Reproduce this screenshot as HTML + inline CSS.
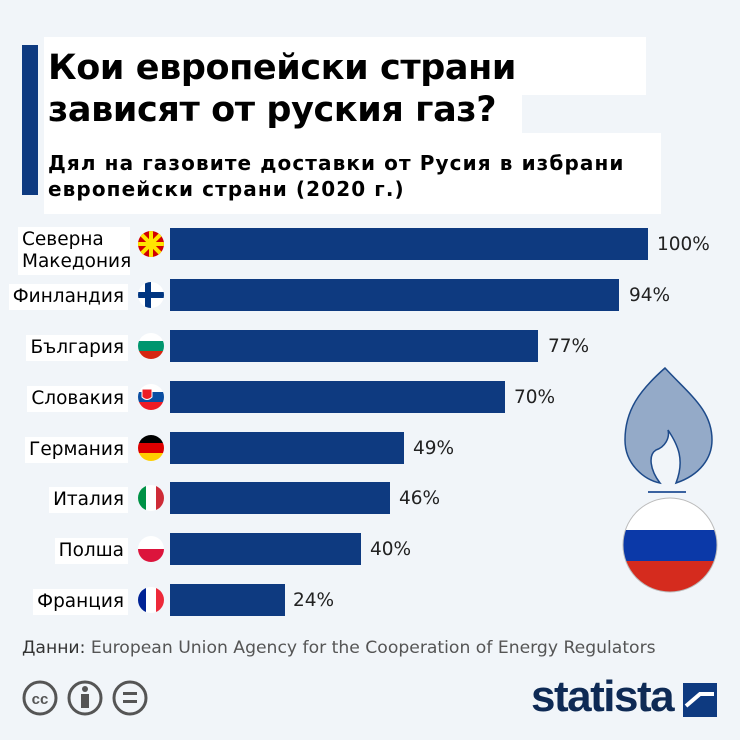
<!DOCTYPE html><html><head><meta charset="utf-8"><style>
body{margin:0;width:740px;height:740px;background:#f1f5f9;position:relative;overflow:hidden;font-family:"DejaVu Sans","Liberation Sans",sans-serif}
.a{position:absolute}
.w{background:#fff}
.t{font-weight:bold;font-size:35px;color:#000;line-height:44px;white-space:nowrap;letter-spacing:-0.4px}
.s{font-weight:bold;font-size:20px;line-height:26px;white-space:nowrap;letter-spacing:1.1px}
.lab{position:absolute;right:612px;font-size:18.5px;text-align:right;white-space:nowrap;line-height:22px;background:#fff;padding:2px 4px}
.bar{position:absolute;left:170px;height:32px;background:#0e3a80}
.v{position:absolute;font-size:18.5px;color:#222}
</style></head><body>
<div class="a" style="left:22px;top:45px;width:16px;height:150px;background:#0e3a80"></div>
<div class="a w" style="left:44px;top:37px;width:602px;height:58px"></div>
<div class="a w" style="left:44px;top:95px;width:478px;height:38px"></div>
<div class="a w" style="left:44px;top:133px;width:617px;height:81px"></div>
<div class="a t" style="left:48px;top:46px">Кои европейски страни</div>
<div class="a t" style="left:48px;top:88px">зависят от руския газ?</div>
<div class="a s" style="left:48px;top:150px">Дял на газовите доставки от Русия в избрани</div>
<div class="a s" style="left:48px;top:176px">европейски страни (2020 г.)</div>

<div class="lab" style="top:227px;text-align:left;right:auto;left:18px;width:104px">Северна<br>Македония</div>
<div class="lab" style="top:284px">Финландия</div>
<div class="lab" style="top:335px">България</div>
<div class="lab" style="top:386px">Словакия</div>
<div class="lab" style="top:437px">Германия</div>
<div class="lab" style="top:487px">Италия</div>
<div class="lab" style="top:538px">Полша</div>
<div class="lab" style="top:589px">Франция</div>

<svg class="a" style="left:0;top:0" width="740" height="740">
<defs>
<clipPath id="c1"><circle cx="151" cy="244" r="13"/></clipPath>
<clipPath id="c2"><circle cx="151" cy="295" r="13"/></clipPath>
<clipPath id="c3"><circle cx="151" cy="346" r="13"/></clipPath>
<clipPath id="c4"><circle cx="151" cy="397" r="13"/></clipPath>
<clipPath id="c5"><circle cx="151" cy="448" r="13"/></clipPath>
<clipPath id="c6"><circle cx="151" cy="498" r="13"/></clipPath>
<clipPath id="c7"><circle cx="151" cy="549" r="13"/></clipPath>
<clipPath id="c8"><circle cx="151" cy="600" r="13"/></clipPath>
<clipPath id="cr"><circle cx="670" cy="545" r="47"/></clipPath>
</defs>
<g clip-path="url(#c1)"><rect x="136" y="229" width="30" height="30" fill="#d20000"/><g stroke="#ffe600" stroke-width="4"><line x1="136" y1="229" x2="166" y2="259"/><line x1="166" y1="229" x2="136" y2="259"/><line x1="136" y1="244" x2="166" y2="244"/><line x1="151" y1="229" x2="151" y2="259"/></g><circle cx="151" cy="244" r="4" fill="#ffe600"/></g>
<g clip-path="url(#c2)"><rect x="136" y="280" width="30" height="30" fill="#fff"/><rect x="136" y="292" width="30" height="6" fill="#003580"/><rect x="145" y="280" width="6" height="30" fill="#003580"/></g>
<g clip-path="url(#c3)"><rect x="136" y="331" width="30" height="10" fill="#fff"/><rect x="136" y="341" width="30" height="10" fill="#00966e"/><rect x="136" y="351" width="30" height="10" fill="#d62612"/></g>
<g clip-path="url(#c4)"><rect x="136" y="382" width="30" height="10" fill="#fff"/><rect x="136" y="392" width="30" height="10" fill="#0b4ea2"/><rect x="136" y="402" width="30" height="10" fill="#ee1c25"/><path d="M142 389h10v8q-5 5-10 0z" fill="#ee1c25" stroke="#fff"/></g>
<g clip-path="url(#c5)"><rect x="136" y="433" width="30" height="10" fill="#000"/><rect x="136" y="443" width="30" height="10" fill="#dd0000"/><rect x="136" y="453" width="30" height="10" fill="#ffce00"/></g>
<g clip-path="url(#c6)"><rect x="136" y="483" width="10" height="30" fill="#009246"/><rect x="146" y="483" width="10" height="30" fill="#fff"/><rect x="156" y="483" width="10" height="30" fill="#ce2b37"/></g>
<g clip-path="url(#c7)"><rect x="136" y="534" width="30" height="15" fill="#fff"/><rect x="136" y="549" width="30" height="15" fill="#dc143c"/></g>
<g clip-path="url(#c8)"><rect x="136" y="585" width="10" height="30" fill="#002395"/><rect x="146" y="585" width="10" height="30" fill="#fff"/><rect x="156" y="585" width="10" height="30" fill="#ed2939"/></g>
<path d="M665 368 C640 390 625 410 625 440 C625 465 645 480 660 483 C650 470 648 455 656 450 C665 447 670 438 668 430 C678 445 685 460 676 483 C700 475 712 458 712 440 C712 410 690 395 665 368Z" fill="#94aac8" stroke="#1d4a8a" stroke-width="1.5"/>
<line x1="648" y1="492" x2="686" y2="492" stroke="#3a62a0" stroke-width="2"/>
<g clip-path="url(#cr)"><rect x="620" y="498" width="100" height="32" fill="#fff"/><rect x="620" y="530" width="100" height="31" fill="#0b39a8"/><rect x="620" y="561" width="100" height="35" fill="#d52b1e"/></g>
<circle cx="670" cy="545" r="47" fill="none" stroke="#bbb"/>
<g fill="none" stroke="#555" stroke-width="3"><circle cx="40" cy="698" r="16"/><circle cx="85" cy="698" r="16"/><circle cx="130" cy="698" r="16"/></g>
<text x="40" y="704" text-anchor="middle" font-size="15" font-weight="bold" fill="#555" font-family="Liberation Sans">cc</text>
<circle cx="85" cy="689" r="3" fill="#555"/><rect x="81" y="694" width="8" height="14" fill="#555"/>
<rect x="123" y="692" width="14" height="3" fill="#555"/><rect x="123" y="700" width="14" height="3" fill="#555"/>
<rect x="683" y="683" width="34" height="34" fill="#0e3a80"/>
<path d="M686 706 L700 694 L714 694" stroke="#fff" stroke-width="4" fill="none"/>
</svg>

<div class="bar" style="top:228px;width:478px"></div><div class="v" style="left:657px;top:234px">100%</div>
<div class="bar" style="top:279px;width:449px"></div><div class="v" style="left:629px;top:285px">94%</div>
<div class="bar" style="top:330px;width:368px"></div><div class="v" style="left:548px;top:336px">77%</div>
<div class="bar" style="top:381px;width:335px"></div><div class="v" style="left:514px;top:387px">70%</div>
<div class="bar" style="top:432px;width:234px"></div><div class="v" style="left:413px;top:438px">49%</div>
<div class="bar" style="top:482px;width:220px"></div><div class="v" style="left:399px;top:488px">46%</div>
<div class="bar" style="top:533px;width:191px"></div><div class="v" style="left:370px;top:539px">40%</div>
<div class="bar" style="top:584px;width:115px"></div><div class="v" style="left:293px;top:590px">24%</div>

<div class="a" style="left:22px;top:638px;font-size:17.2px;color:#333;white-space:nowrap">Данни: <span style="color:#555">European Union Agency for the Cooperation of Energy Regulators</span></div>
<div class="a" style="left:531px;top:672px;font-size:44px;font-weight:bold;color:#0e2a55;letter-spacing:-1.5px;font-family:'Liberation Sans',sans-serif">statista</div>
</body></html>
